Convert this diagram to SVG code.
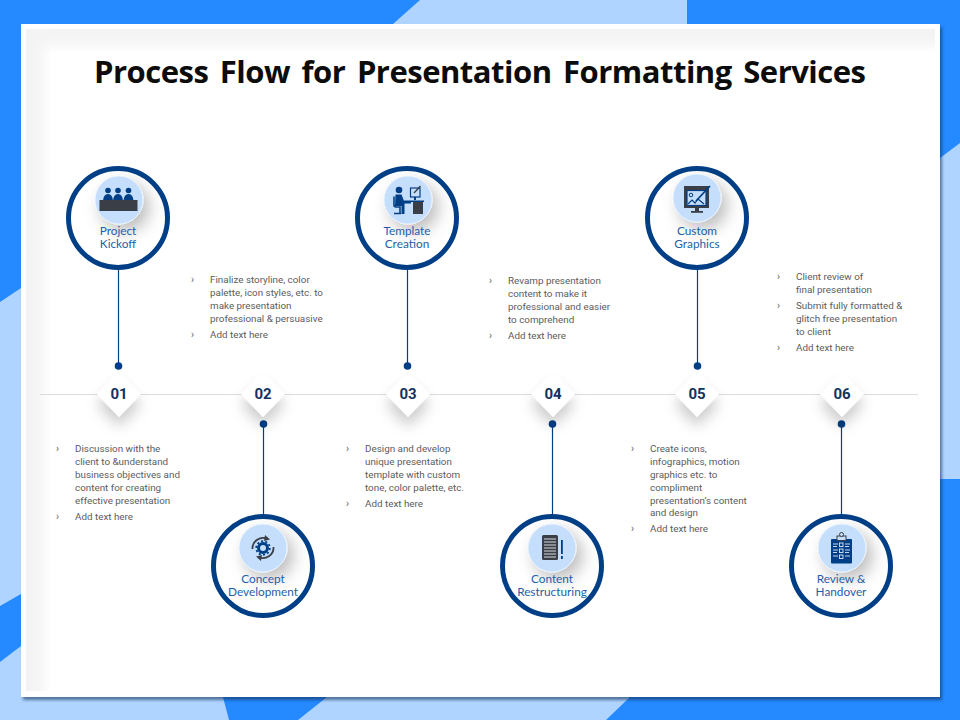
<svg xmlns="http://www.w3.org/2000/svg" width="960" height="720" viewBox="0 0 960 720">
<style>
.t{font-family:"Roboto","Liberation Sans",sans-serif;font-size:9.85px;fill:#5c5c5c}
.b{font-family:"Roboto","Liberation Sans",sans-serif;font-size:10px;fill:#5c5c5c}
.l{font-family:"Lato","Open Sans",sans-serif;font-size:11.8px;font-weight:400;fill:#1f5fa8;text-anchor:middle}
.n{font-family:"Roboto","Liberation Sans",sans-serif;font-size:15px;font-weight:700;fill:#12335f;text-anchor:middle}
.ring{fill:#fff;stroke:#003f86;stroke-width:5}
.disc{fill:#c5defb;stroke:#e9f3fe;stroke-width:1;filter:url(#s1)}
.conn{stroke:#003f86;stroke-width:1.2;fill:none}
.dot{fill:#003f86}
.dm{fill:#fff;filter:url(#s2)}
.nv{fill:#003f86}
.gr{fill:#3a3f47}
</style>
<defs>
<filter id="s1" x="-60%" y="-60%" width="260%" height="260%"><feDropShadow dx="6" dy="7" stdDeviation="8" flood-color="#000" flood-opacity=".26"/></filter>
<filter id="s2" x="-60%" y="-60%" width="220%" height="240%"><feDropShadow dx="0" dy="10" stdDeviation="7" flood-color="#000" flood-opacity=".2"/></filter>
<filter id="s3" x="-2%" y="-2%" width="104%" height="104%"><feDropShadow dx="2" dy="3" stdDeviation="1.500" flood-color="#10305a" flood-opacity=".6"/></filter>
<linearGradient id="gt" x1="0" y1="0" x2="0" y2="1"><stop offset="0" stop-color="#f3f3f3"/><stop offset=".45" stop-color="#f5f5f5"/><stop offset="1" stop-color="#f5f5f5" stop-opacity="0"/></linearGradient>
<linearGradient id="gl" x1="0" y1="0" x2="1" y2="0"><stop offset="0" stop-color="#f3f3f3"/><stop offset=".45" stop-color="#f5f5f5"/><stop offset="1" stop-color="#f5f5f5" stop-opacity="0"/></linearGradient>
</defs>

<g id="background">
<rect width="960" height="720" fill="#aed4ff"/>
<polygon fill="#2589ff" points="0,0 420,0 393,24 21,24 21,288 0,302"/>
<polygon fill="#2589ff" points="687,0 960,0 960,143 940,158 940,24 687,24"/>
<polygon fill="#2589ff" points="940,479 960,479 960,720 606,720 630,697 940,697"/>
<polygon fill="#2589ff" points="223,697 327,697 298,720 229,720"/>
<polygon fill="#2589ff" points="0,606 21,594 21,646 0,662"/>
<rect x="21" y="24" width="919" height="673" fill="#fff" filter="url(#s3)"/>
<rect x="26" y="29" width="909" height="24" fill="url(#gt)"/>
<rect x="26" y="29" width="26" height="662" fill="url(#gl)"/>
</g>

<text id="title" x="94" y="83" font-family="'Open Sans','Noto Sans',sans-serif" font-size="31" font-weight="700" fill="#0c0c0c" word-spacing="4" textLength="772" lengthAdjust="spacing">Process Flow for Presentation Formatting Services</text>

<line id="timeline" x1="40" y1="394.500" x2="918" y2="394.500" stroke="#dcdcdc" stroke-width="1"/>

<g id="connectors">
<line class="conn" x1="118.500" y1="270" x2="118.500" y2="366"/><circle class="dot" cx="118.500" cy="366" r="3.800"/>
<line class="conn" x1="263.500" y1="424" x2="263.500" y2="516"/><circle class="dot" cx="263.500" cy="424" r="3.800"/>
<line class="conn" x1="407.500" y1="270" x2="407.500" y2="366"/><circle class="dot" cx="407.500" cy="366" r="3.800"/>
<line class="conn" x1="552.500" y1="424" x2="552.500" y2="516"/><circle class="dot" cx="552.500" cy="424" r="3.800"/>
<line class="conn" x1="697.500" y1="270" x2="697.500" y2="366"/><circle class="dot" cx="697.500" cy="366" r="3.800"/>
<line class="conn" x1="841.500" y1="424" x2="841.500" y2="516"/><circle class="dot" cx="841.500" cy="424" r="3.800"/>
</g>

<g id="step-01"><polygon class="dm" points="119,373 141,394 119,417 97,394"/><text class="n" x="119" y="399">01</text></g>
<g id="step-02"><polygon class="dm" points="263,373 285,394 263,417 241,394"/><text class="n" x="263" y="399">02</text></g>
<g id="step-03"><polygon class="dm" points="408,373 430,394 408,417 386,394"/><text class="n" x="408" y="399">03</text></g>
<g id="step-04"><polygon class="dm" points="553,373 575,394 553,417 531,394"/><text class="n" x="553" y="399">04</text></g>
<g id="step-05"><polygon class="dm" points="697,373 719,394 697,417 675,394"/><text class="n" x="697" y="399">05</text></g>
<g id="step-06"><polygon class="dm" points="842,373 864,394 842,417 820,394"/><text class="n" x="842" y="399">06</text></g>

<g id="node-kickoff">
<circle class="ring" cx="118" cy="218" r="49.500"/>
<circle class="disc" cx="119" cy="200" r="24"/>
<g class="nv"><circle cx="108" cy="190.500" r="2.800"/><circle cx="118" cy="190.500" r="2.800"/><circle cx="128.500" cy="190.500" r="2.800"/>
<path d="M103 201q.5-7 5-7t5 7zM113 201q.5-7 5-7t5 7zM123.500 201q.5-7 5-7t5 7z"/></g>
<rect class="gr" x="99.500" y="200" width="38" height="11"/>
<text class="l" x="118" y="235"><tspan x="118">Project</tspan><tspan x="118" dy="13">Kickoff</tspan></text>
</g>

<g id="node-template">
<circle class="ring" cx="407" cy="218" r="49.500"/>
<circle class="disc" cx="408" cy="200" r="24"/>
<circle class="nv" cx="399" cy="190" r="3.300"/>
<path class="nv" d="M395.500 194.500h6l2.500 6.500h7v2.500h-6.500v10.500h-3v-8h-6.500z"/>
<path d="M394 196.500v8.500q0 2 2 2h4v6.500M394 213.500h7" fill="none" stroke="#003f86" stroke-width="1.600"/>
<rect x="410.500" y="188" width="9.500" height="9" fill="#c5defb" stroke="#003f86" stroke-width="1.200"/>
<path d="M414 193l6.500-7" stroke="#3a3f47" stroke-width="1.300"/>
<rect class="nv" x="414" y="197" width="2" height="3"/>
<rect class="nv" x="404" y="200.500" width="20" height="1.500"/>
<rect class="gr" x="413" y="202" width="10" height="12"/>
<text class="l" x="407" y="235"><tspan x="407">Template</tspan><tspan x="407" dy="13">Creation</tspan></text>
</g>

<g id="node-graphics">
<circle class="ring" cx="697" cy="218" r="49.500"/>
<circle class="disc" cx="697" cy="198" r="24"/>
<rect x="684" y="186" width="25" height="22" fill="#3a3f47"/>
<rect x="687" y="190.500" width="19" height="15" fill="#c5defb" stroke="#003f86" stroke-width="1.200"/>
<circle cx="691" cy="195" r="1.800" fill="none" stroke="#003f86" stroke-width="1"/>
<path d="M688 204l4-4 3 3 3-4 6 5" fill="none" stroke="#003f86" stroke-width="1.200"/>
<path d="M696 201l14-15" stroke="#003f86" stroke-width="1.800"/>
<rect class="gr" x="695" y="208" width="4" height="3"/><rect class="gr" x="691" y="211" width="12" height="1.800"/>
<text class="l" x="697" y="235"><tspan x="697">Custom</tspan><tspan x="697" dy="13">Graphics</tspan></text>
</g>

<g id="node-concept">
<circle class="ring" cx="263" cy="566" r="49.500"/>
<circle class="disc" cx="263" cy="548" r="24"/>
<path d="M252.500 549a10.500 10.500 0 0 1 15-10M273.500 547a10.500 10.500 0 0 1-15 10" fill="none" stroke="#3a3f47" stroke-width="1.800"/>
<path d="M265 535l5 4.500-6 1.500zM261 561l-5-4.500 6-1.500z" fill="#3a3f47"/>
<circle cx="263" cy="548" r="4.500" fill="none" stroke="#003f86" stroke-width="3"/>
<circle cx="263" cy="548" r="6.800" fill="none" stroke="#003f86" stroke-width="1.800" stroke-dasharray="2.100 2.170"/>
<text class="l" x="263" y="583"><tspan x="263">Concept</tspan><tspan x="263" dy="13">Development</tspan></text>
</g>

<g id="node-content">
<circle class="ring" cx="552" cy="566" r="49.500"/>
<circle class="disc" cx="552" cy="548" r="24"/>
<rect class="gr" x="542" y="535" width="16" height="25" rx="1.500"/>
<path d="M544 539h12M544 542h12M544 545h12M544 548h12M544 551h12M544 554h12M544 557h12" stroke="#d8dade" stroke-width="1"/>
<rect class="nv" x="561" y="540" width="1.800" height="14"/><rect class="nv" x="561" y="556" width="1.800" height="3"/>
<text class="l" x="552" y="583"><tspan x="552">Content</tspan><tspan x="552" dy="13">Restructuring</tspan></text>
</g>

<g id="node-review">
<circle class="ring" cx="841" cy="566" r="49.500"/>
<circle class="disc" cx="842" cy="548" r="24"/>
<rect class="nv" x="831" y="539" width="21" height="24.500" rx="1"/>
<rect x="837" y="536" width="9" height="4.500" fill="#c5defb" stroke="#3a3f47" stroke-width="1"/>
<circle cx="841.500" cy="534.500" r="2" fill="#c5defb" stroke="#3a3f47" stroke-width="1"/>
<g fill="none" stroke="#dbe9fb" stroke-width=".9">
<rect x="839.500" y="543" width="3.500" height="3.500"/><rect x="839.500" y="549" width="3.500" height="3.500"/><rect x="839.500" y="555" width="3.500" height="3.500"/>
<path d="M833 544h5M833 546.500h4M845 544h5M845 546.500h4M833 550h5M833 552.500h4M845 550h5M845 552.500h4M833 556h5M845 556h5"/>
</g>
<text class="l" x="841" y="583"><tspan x="841">Review &amp;</tspan><tspan x="841" dy="13">Handover</tspan></text>
</g>

<g id="text-01">
<text class="b" x="56" y="452">›</text><text class="b" x="56" y="520">›</text>
<text class="t" x="75" y="452">Discussion with the</text><text class="t" x="75" y="465">client to &amp;understand</text><text class="t" x="75" y="478">business objectives and</text><text class="t" x="75" y="491">content for creating</text><text class="t" x="75" y="504">effective presentation</text><text class="t" x="75" y="520">Add text here</text>
</g>
<g id="text-02">
<text class="b" x="191" y="283">›</text><text class="b" x="191" y="338">›</text>
<text class="t" x="210" y="283">Finalize storyline, color</text><text class="t" x="210" y="296">palette, icon styles, etc. to</text><text class="t" x="210" y="309">make presentation</text><text class="t" x="210" y="322">professional &amp; persuasive</text><text class="t" x="210" y="338">Add text here</text>
</g>
<g id="text-03">
<text class="b" x="346" y="452">›</text><text class="b" x="346" y="507">›</text>
<text class="t" x="365" y="452">Design and develop</text><text class="t" x="365" y="465">unique presentation</text><text class="t" x="365" y="478">template with custom</text><text class="t" x="365" y="491">tone, color palette, etc.</text><text class="t" x="365" y="507">Add text here</text>
</g>
<g id="text-04">
<text class="b" x="489" y="284">›</text><text class="b" x="489" y="339">›</text>
<text class="t" x="508" y="284">Revamp presentation</text><text class="t" x="508" y="297">content to make it</text><text class="t" x="508" y="310">professional and easier</text><text class="t" x="508" y="323">to comprehend</text><text class="t" x="508" y="339">Add text here</text>
</g>
<g id="text-05">
<text class="b" x="631" y="452">›</text><text class="b" x="631" y="532">›</text>
<text class="t" x="650" y="452">Create icons,</text><text class="t" x="650" y="465">infographics, motion</text><text class="t" x="650" y="478">graphics etc. to</text><text class="t" x="650" y="491">compliment</text><text class="t" x="650" y="504">presentation’s content</text><text class="t" x="650" y="516">and design</text><text class="t" x="650" y="532">Add text here</text>
</g>
<g id="text-06">
<text class="b" x="777" y="280">›</text><text class="b" x="777" y="309">›</text><text class="b" x="777" y="351">›</text>
<text class="t" x="796" y="280">Client review of</text><text class="t" x="796" y="293">final presentation</text><text class="t" x="796" y="309">Submit fully formatted &amp;</text><text class="t" x="796" y="322">glitch free presentation</text><text class="t" x="796" y="335">to client</text><text class="t" x="796" y="351">Add text here</text>
</g>
</svg>
